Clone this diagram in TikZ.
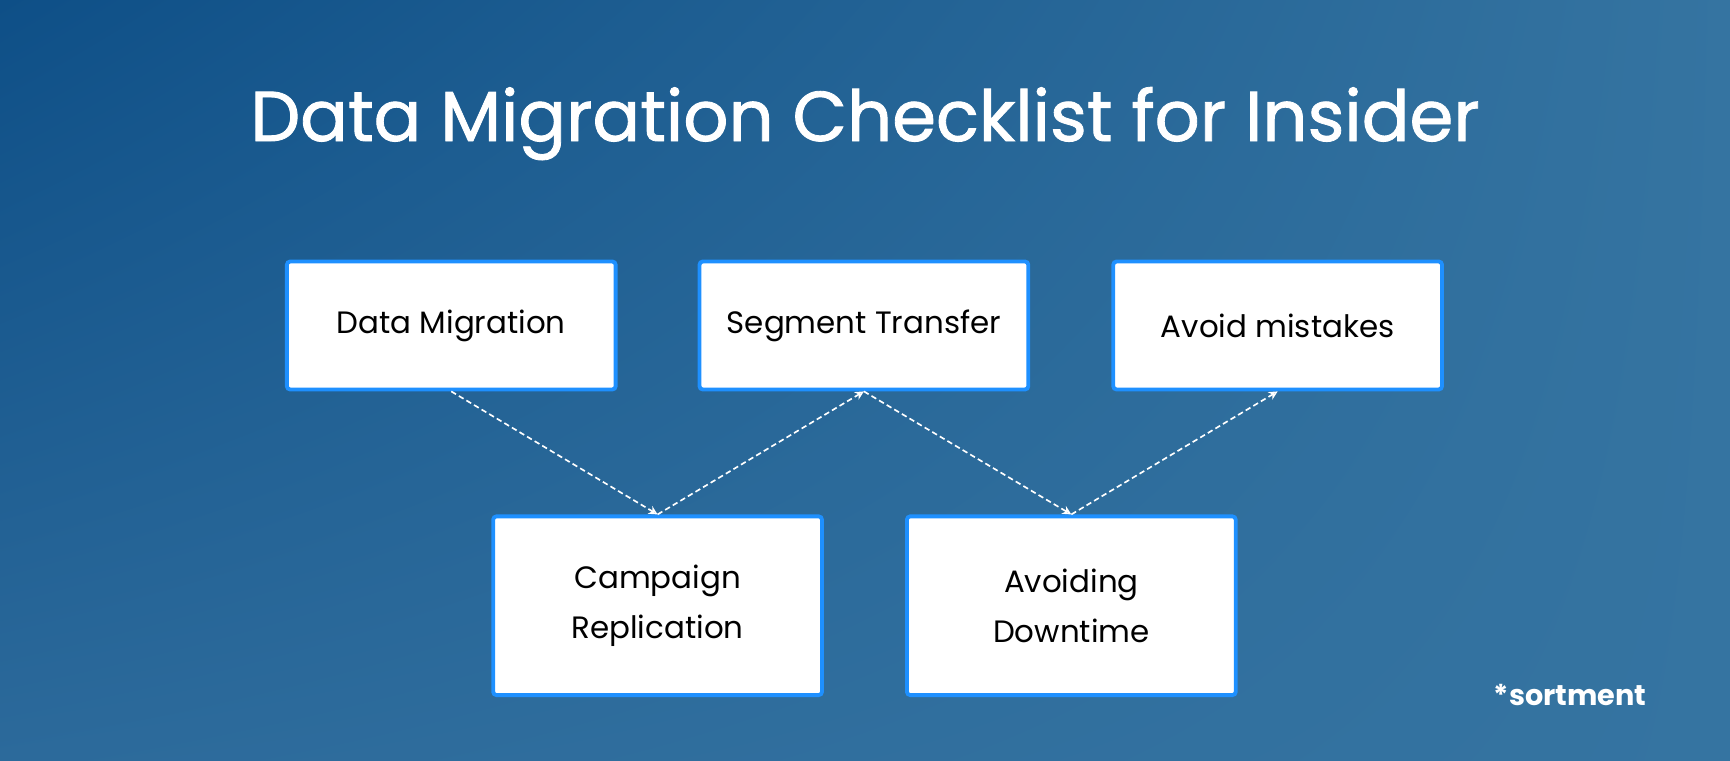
\documentclass[tikz,border=0pt]{standalone}
\usepackage{fontspec}
\setmainfont{Poppins}
\newfontfamily\titlefont{Poppins}[FakeBold=1.2]
\usetikzlibrary{arrows.meta,positioning,shadings}
\definecolor{bgdark}{HTML}{0E4F87}
\definecolor{bgmid}{HTML}{2C6A9B}
\definecolor{bglight}{HTML}{3574A1}
\definecolor{boxblue}{HTML}{1E90FF}
\begin{document}
\begin{tikzpicture}[x=1pt,y=1pt,
    checkbox/.style={rectangle,draw=boxblue,line width=3.5pt,fill=white,rounded corners=3pt,
        minimum width=298pt,align=center,inner sep=0pt,
        font=\fontsize{28}{45}\selectfont},
    flow/.style={white,dashed,line width=1.5pt,dash pattern=on 5pt off 3pt,-{Stealth[open,length=8pt,width=8pt]}}]
    % Background
    \shade[upper left=bgdark,lower right=bglight,upper right=bglight,lower left=bgmid] (0,0) rectangle (1568,-689);
    \useasboundingbox (0,0) rectangle (1568,-689);
    % Title
    \node[white,font=\titlefont\fontsize{64}{74}\selectfont] (title) at (784,-112) {Data Migration Checklist for Insider};
    % Top row
    \node[checkbox,minimum height=116pt] (migr) at (409,-295) {Data Migration};
    \node[checkbox,minimum height=116pt] (segm) at (783,-295) {Segment Transfer};
    \node[checkbox,minimum height=116pt] (mist) at (1158,-295) {Avoid mistakes};
    % Bottom row
    \node[checkbox,minimum height=162pt] (camp) at (596,-549) {Campaign\\Replication};
    \node[checkbox,minimum height=162pt] (down) at (971,-549) {Avoiding\\Downtime};
    % Dashed arrows
    \draw[flow] (migr.south) -- (camp.north);
    \draw[flow] (camp.north) -- (segm.south);
    \draw[flow] (segm.south) -- (down.north);
    \draw[flow] (down.north) -- (mist.south);
    % Logo
    \node[white,font=\fontsize{26}{30}\selectfont\bfseries] (logo) at (1423,-630) {*sortment};
\end{tikzpicture}
\end{document}
